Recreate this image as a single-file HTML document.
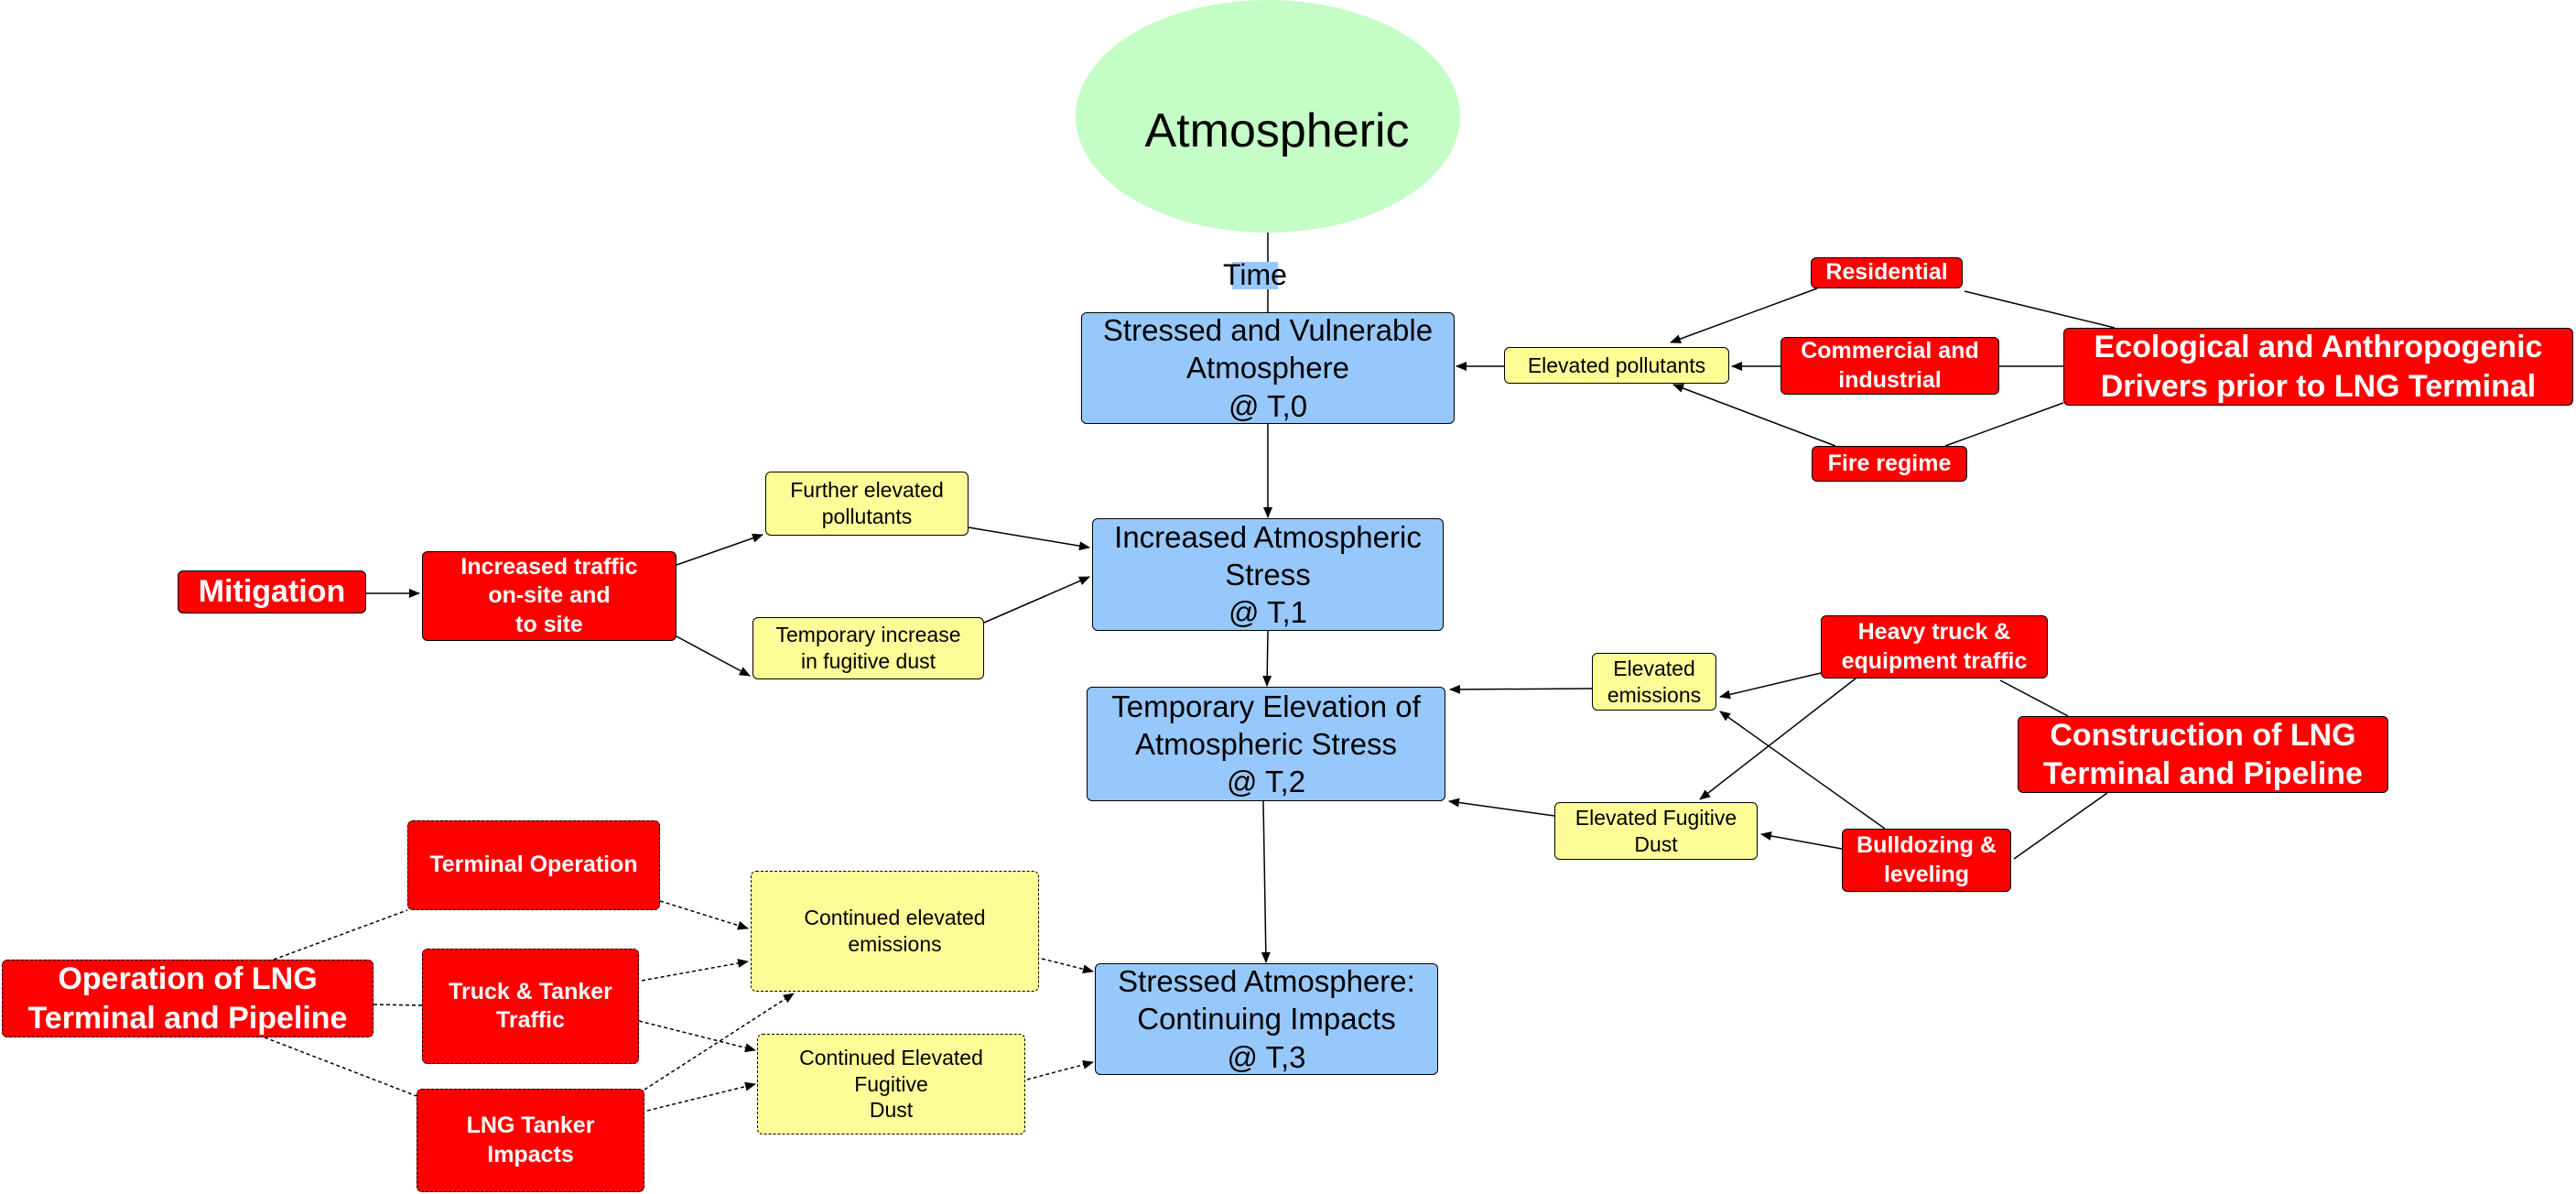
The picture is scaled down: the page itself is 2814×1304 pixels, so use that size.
<!DOCTYPE html>
<html><head><meta charset="utf-8"><style>
body{margin:0;width:2814px;height:1304px;background:#fff;position:relative;overflow:hidden;font-family:"Liberation Sans",sans-serif}
.n{position:absolute;display:flex;align-items:center;justify-content:center;text-align:center;box-sizing:border-box;border:1.5px solid #000;border-radius:6px;line-height:1.25}
.b{background:#97c8fc;font-size:33px;color:#000}
.y{background:#fdfd98;font-size:23px;color:#000}
.r{background:#fe0000;color:#fff;font-weight:bold;font-size:25px}
.R{background:#fe0000;color:#fff;font-weight:bold;font-size:34px}
.d{border-style:dashed}
svg{position:absolute;left:0;top:0}
</style></head><body>
<svg width="2814" height="1304">
<defs><marker id="a" markerWidth="12" markerHeight="10" refX="11" refY="5" orient="auto" markerUnits="userSpaceOnUse"><path d="M0,0L12,5L0,10z" fill="#000"/></marker></defs>
<ellipse cx="1385" cy="127" rx="210" ry="127" fill="#c4fdc5"/>
<g stroke="#000" stroke-width="1.5" fill="none">
<line x1="1385" y1="254" x2="1385" y2="341"/>
<line x1="1385" y1="463" x2="1385" y2="565" marker-end="url(#a)"/>
<line x1="1385" y1="689" x2="1384" y2="749" marker-end="url(#a)"/>
<line x1="1380" y1="875" x2="1383" y2="1051" marker-end="url(#a)"/>
<line x1="1643" y1="400" x2="1591" y2="400" marker-end="url(#a)"/>
<line x1="1945" y1="400" x2="1892" y2="400" marker-end="url(#a)"/>
<line x1="1985" y1="315" x2="1825" y2="374" marker-end="url(#a)"/>
<line x1="2005" y1="487" x2="1828" y2="420" marker-end="url(#a)"/>
<line x1="2146" y1="318" x2="2310" y2="358"/>
<line x1="2184" y1="400" x2="2254" y2="400"/>
<line x1="2125" y1="487" x2="2254" y2="440"/>
<line x1="1058" y1="576" x2="1190" y2="598" marker-end="url(#a)"/>
<line x1="1075" y1="680" x2="1190" y2="630" marker-end="url(#a)"/>
<line x1="739" y1="617" x2="833" y2="584" marker-end="url(#a)"/>
<line x1="739" y1="695" x2="819" y2="738" marker-end="url(#a)"/>
<line x1="400" y1="648" x2="458" y2="648" marker-end="url(#a)"/>
<line x1="1739" y1="752" x2="1584" y2="753" marker-end="url(#a)"/>
<line x1="1989" y1="735" x2="1879" y2="761" marker-end="url(#a)"/>
<line x1="2027" y1="741" x2="1857" y2="873" marker-end="url(#a)"/>
<line x1="2059" y1="905" x2="1879" y2="777" marker-end="url(#a)"/>
<line x1="1698" y1="891" x2="1583" y2="875" marker-end="url(#a)"/>
<line x1="2012" y1="927" x2="1924" y2="911" marker-end="url(#a)"/>
<line x1="2185" y1="743" x2="2259" y2="782"/>
<line x1="2302" y1="866" x2="2200" y2="938"/>
</g>
<g stroke="#000" stroke-width="1.5" fill="none" stroke-dasharray="4,3">
<line x1="299" y1="1048" x2="445" y2="994"/>
<line x1="408" y1="1097" x2="461" y2="1098"/>
<line x1="289" y1="1133" x2="455" y2="1197"/>
<line x1="721" y1="984" x2="817" y2="1014" marker-end="url(#a)"/>
<line x1="701" y1="1071" x2="817" y2="1050" marker-end="url(#a)"/>
<line x1="698" y1="1115" x2="825" y2="1147" marker-end="url(#a)"/>
<line x1="704" y1="1190" x2="867" y2="1085" marker-end="url(#a)"/>
<line x1="707" y1="1213" x2="825" y2="1184" marker-end="url(#a)"/>
<line x1="1138" y1="1047" x2="1194" y2="1061" marker-end="url(#a)"/>
<line x1="1122" y1="1179" x2="1194" y2="1160" marker-end="url(#a)"/>
</g>
<rect x="1346" y="286" width="50" height="30" fill="#97c8fc"/>
<text x="1371" y="311" font-size="32" text-anchor="middle" font-family="Liberation Sans">Time</text>
<text x="1395" y="160" font-size="52" text-anchor="middle" font-family="Liberation Sans">Atmospheric</text>
</svg>
<div class="n b" style="left:1181px;top:341px;width:408px;height:122px">Stressed and Vulnerable<br>Atmosphere<br>@ T,0</div>
<div class="n b" style="left:1193px;top:566px;width:384px;height:123px">Increased Atmospheric<br>Stress<br>@ T,1</div>
<div class="n b" style="left:1187px;top:750px;width:392px;height:125px">Temporary Elevation of<br>Atmospheric Stress<br>@ T,2</div>
<div class="n b" style="left:1196px;top:1052px;width:375px;height:122px">Stressed Atmosphere:<br>Continuing Impacts<br>@ T,3</div>
<div class="n y" style="left:1643px;top:379px;width:246px;height:40px">Elevated pollutants</div>
<div class="n y" style="left:836px;top:515px;width:222px;height:70px">Further elevated<br>pollutants</div>
<div class="n y" style="left:822px;top:674px;width:253px;height:68px">Temporary increase<br>in fugitive dust</div>
<div class="n y" style="left:1739px;top:713px;width:136px;height:63px">Elevated<br>emissions</div>
<div class="n y" style="left:1698px;top:876px;width:222px;height:63px">Elevated Fugitive<br>Dust</div>
<div class="n y d" style="left:820px;top:951px;width:315px;height:132px">Continued elevated<br>emissions</div>
<div class="n y d" style="left:827px;top:1129px;width:293px;height:110px">Continued Elevated<br>Fugitive<br>Dust</div>
<div class="n r" style="left:1978px;top:281px;width:166px;height:34px">Residential</div>
<div class="n r" style="left:1945px;top:368px;width:239px;height:63px">Commercial and<br>industrial</div>
<div class="n r" style="left:1979px;top:487px;width:170px;height:39px">Fire regime</div>
<div class="n R" style="left:2254px;top:358px;width:557px;height:85px">Ecological and Anthropogenic<br>Drivers prior to LNG Terminal</div>
<div class="n R" style="left:194px;top:623px;width:206px;height:47px">Mitigation</div>
<div class="n r" style="left:461px;top:602px;width:278px;height:98px">Increased traffic<br>on-site and<br>to site</div>
<div class="n r" style="left:1989px;top:672px;width:248px;height:69px">Heavy truck &amp;<br>equipment traffic</div>
<div class="n R" style="left:2204px;top:782px;width:405px;height:84px">Construction of LNG<br>Terminal and Pipeline</div>
<div class="n r" style="left:2012px;top:905px;width:185px;height:69px">Bulldozing &amp;<br>leveling</div>
<div class="n r d" style="left:445px;top:896px;width:276px;height:98px">Terminal Operation</div>
<div class="n R d" style="left:2px;top:1048px;width:406px;height:85px">Operation of LNG<br>Terminal and Pipeline</div>
<div class="n r d" style="left:461px;top:1036px;width:237px;height:126px">Truck &amp; Tanker<br>Traffic</div>
<div class="n r d" style="left:455px;top:1189px;width:249px;height:113px">LNG Tanker<br>Impacts</div>
</body></html>
